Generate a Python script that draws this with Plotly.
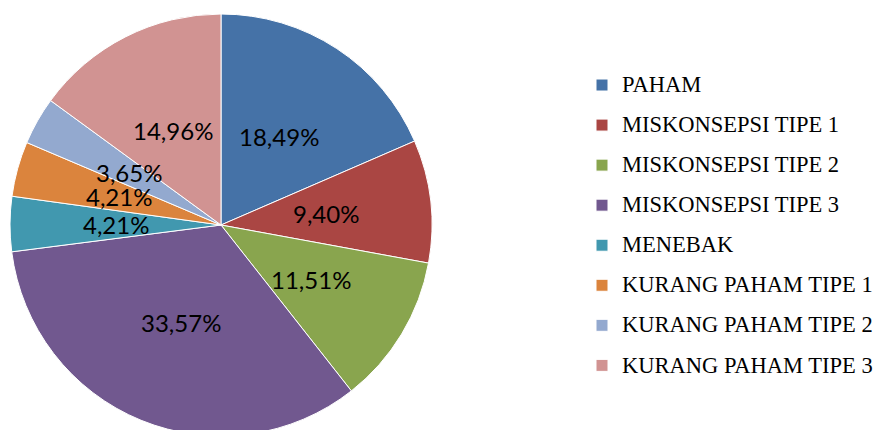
import math
import plotly.graph_objects as go

labels = ["PAHAM", "MISKONSEPSI TIPE 1", "MISKONSEPSI TIPE 2", "MISKONSEPSI TIPE 3",
          "MENEBAK", "KURANG PAHAM TIPE 1", "KURANG PAHAM TIPE 2", "KURANG PAHAM TIPE 3"]
values = [18.49, 9.40, 11.51, 33.57, 4.21, 4.21, 3.65, 14.96]
value_text = ["18,49%", "9,40%", "11,51%", "33,57%", "4,21%", "4,21%", "3,65%", "14,96%"]
colors = ["#4572A7", "#AA4643", "#89A54E", "#71588F", "#4198AF", "#DB843D", "#93A9CF", "#D19392"]

W, H = 878, 450
MT, MB = 14, 14
CX, R = 221, 211
plot_h = H - MT - MB

fig = go.Figure()
fig.add_trace(go.Pie(
    labels=[f'<span style="font-size:22.5px;baseline-shift:4px">{l}</span>' for l in labels],
    values=values,
    sort=False,
    direction="clockwise",
    rotation=0,
    marker=dict(colors=colors, line=dict(color="white", width=1)),
    textinfo="none",
    hoverinfo="none",
    domain=dict(x=[(CX - R) / W, (CX + R) / W], y=[0, 1]),
))

# data labels at half radius along each slice bisector
total = sum(values)
cum = 0.0
for v, t in zip(values, value_text):
    mid = (cum + v / 2) / total * 2 * math.pi
    cum += v
    px = CX + 0.5 * R * math.sin(mid)
    py = 0.5 * plot_h + 0.5 * R * math.cos(mid)
    fig.add_annotation(x=px / W, y=py / plot_h, xref="paper", yref="paper",
                       text=t, showarrow=False, xanchor="center", yanchor="middle",
                       font=dict(family="Lato", size=24, color="black"))

fig.update_layout(
    width=W, height=H,
    margin=dict(l=0, r=0, t=MT, b=MB, autoexpand=False),
    paper_bgcolor="white",
    showlegend=True,
    legend=dict(x=582 / W, xanchor="left", y=1 - (60 - MT) / plot_h, yanchor="top",
                font=dict(family="Liberation Serif", size=28.5, color="black"),
                itemclick=False),
)

fig.write_html("out.html", config={"displayModeBar": False},
               post_script="document.body.style.margin='0';document.body.style.overflow='hidden';document.documentElement.style.overflow='hidden';")
